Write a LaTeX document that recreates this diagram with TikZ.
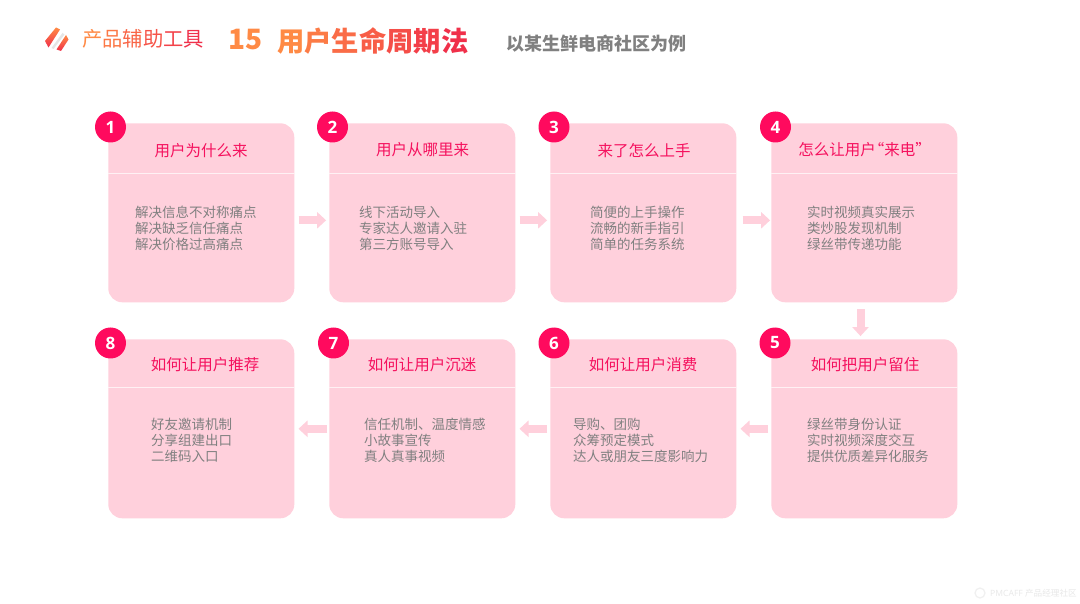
\documentclass[tikz,border=0pt]{standalone}
\usepackage{fontspec}
\usetikzlibrary{arrows.meta}
\setmainfont{Noto Sans CJK SC}
\setsansfont{Open Sans}
\definecolor{cardpink}{HTML}{FFD0DC}
\definecolor{hot}{HTML}{FF0A5E}
\definecolor{titlepink}{HTML}{F5115E}
\definecolor{bodygray}{HTML}{808080}
\definecolor{orangeA}{HTML}{FF8A45}
\definecolor{redA}{HTML}{F0304A}
\newcommand{\gc}[2]{\textcolor{redA!#1!orangeA}{#2}}
\tikzset{
 x=1pt,y=-1pt,
 card/.style={fill=cardpink,rounded corners=14pt,minimum width=186pt,minimum height=179pt,inner sep=0pt},
 badge/.style={circle,fill=hot,minimum size=31pt,inner sep=0pt,text=white,font=\sffamily\bfseries\fontsize{17}{17}\selectfont},
 divider/.style={draw=white!70!cardpink,line width=1pt},
 cardtitle/.style={text=titlepink,inner sep=0pt,font=\fontsize{15.5}{16}\selectfont},
 cardbody/.style={text=bodygray,inner sep=0pt,align=left,anchor=west,font=\fontsize{13.5}{16}\selectfont},
 blockarrow/.style={draw=cardpink,line width=8pt,-{Triangle[length=9pt,width=16pt]}},
 headtext/.style={inner sep=0pt,anchor=west},
 logoband/.style={top color=#1,bottom color=redA,draw=none},
}
\newcommand{\card}[9]{%
 \node[card] (c#1) at (#2,#3) {};
 \draw[divider] ([yshift=#9pt]c#1.west) -- ([yshift=#9pt]c#1.east);
 \node[badge] (b#1) at (#4,#5) {#1};
 \node[cardtitle] (t#1) at (#6,#7) {#8};
}
\begin{document}
\begin{tikzpicture}
\useasboundingbox (0,0) rectangle (1080,604);
\fill[white] (0,0) rectangle (1080,604);
% logo
\fill[black!10] (62.5,33) -- (64.5,34.5) -- (53.5,49) -- (51.5,48) -- cycle;
\path[logoband=orangeA] (56,27.5) -- (60,29.5) -- (48.5,47.5) -- (45,41) -- cycle;
\path[logoband=orangeA] (66,35) -- (68.5,39.5) -- (61,51) -- (56.5,49.5) -- cycle;
% header
\node[headtext,font=\fontsize{20.3}{20}\selectfont] (h1) at (82,39) {\gc{0}{产}\gc{20}{品}\gc{40}{辅}\gc{60}{助}\gc{80}{工}\gc{100}{具}};
\node[headtext,text=orangeA,font=\fontsize{28}{28}\selectfont\bfseries] (h2) at (228,39.5) {15};
\node[headtext,font=\fontsize{27.3}{28}\selectfont\bfseries] (h3) at (277,41) {\gc{0}{用}\gc{17}{户}\gc{33}{生}\gc{50}{命}\gc{67}{周}\gc{83}{期}\gc{100}{法}};
\node[headtext,text=bodygray,font=\fontsize{18}{18}\selectfont\bfseries] (h4) at (506,44) {以某生鲜电商社区为例};
% cards
\card{1}{201.3}{212.8}{110.5}{127}{201}{150.7}{用户为什么来}{39.5}
\card{2}{422.3}{212.8}{332.5}{127}{422.5}{149.7}{用户从哪里来}{39.5}
\card{3}{643.3}{212.8}{554}{127}{644}{150.7}{来了怎么上手}{39.5}
\card{4}{864.3}{212.8}{775.5}{127}{861}{149.7}{怎么让用户\kern-7pt“来电”\kern-7pt}{39.5}
\card{5}{864.3}{428.8}{775}{343}{865}{364.7}{如何把用户留住}{41.5}
\card{6}{643.3}{428.8}{554}{343}{643}{364.7}{如何让用户消费}{41.5}
\card{7}{422.3}{428.8}{333.5}{343}{422}{364.7}{如何让用户沉迷}{41.5}
\card{8}{201.3}{428.8}{110.5}{343}{205}{364.7}{如何让用户推荐}{41.5}
% bodies
\node[cardbody] (d1) at (135,228) {解决信息不对称痛点\\解决缺乏信任痛点\\解决价格过高痛点};
\node[cardbody] (d2) at (359,228) {线下活动导入\\专家达人邀请入驻\\第三方账号导入};
\node[cardbody] (d3) at (590,228) {简便的上手操作\\流畅的新手指引\\简单的任务系统};
\node[cardbody] (d4) at (807,228) {实时视频真实展示\\类炒股发现机制\\绿丝带传递功能};
\node[cardbody] (d5) at (807,440) {绿丝带身份认证\\实时视频深度交互\\提供优质差异化服务};
\node[cardbody] (d6) at (573,440) {导购、团购\\众筹预定模式\\达人或朋友三度影响力};
\node[cardbody] (d7) at (364,440) {信任机制、温度情感\\小故事宣传\\真人真事视频};
\node[cardbody] (d8) at (151,440) {好友邀请机制\\分享组建出口\\二维码入口};
% arrows
\draw[blockarrow,shorten <=4pt,shorten >=3pt] ([yshift=-7.5pt]c1.east) -- ([yshift=-7.5pt]c2.west);
\draw[blockarrow,shorten <=4pt,shorten >=3pt] ([yshift=-7.5pt]c2.east) -- ([yshift=-7.5pt]c3.west);
\draw[blockarrow,shorten <=6pt,shorten >=1pt] ([yshift=-7.5pt]c3.east) -- ([yshift=-7.5pt]c4.west);
\draw[blockarrow,shorten <=7pt,shorten >=3pt] ([xshift=-3.8pt]c4.south) -- ([xshift=-3.8pt]c5.north);
\draw[blockarrow,shorten <=3pt,shorten >=4pt] (c5.west) -- (c6.east);
\draw[blockarrow,shorten <=3pt,shorten >=4pt] (c6.west) -- (c7.east);
\draw[blockarrow,shorten <=2pt,shorten >=4pt] (c7.west) -- (c8.east);
% watermark
\draw[black!6,line width=1.2pt] (980,593) circle (5pt);
\node[headtext,text=black!9,font=\sffamily\fontsize{8.6}{8}\selectfont] (w) at (990,593) {PMCAFF \rmfamily 产品经理社区};
\end{tikzpicture}
\end{document}
